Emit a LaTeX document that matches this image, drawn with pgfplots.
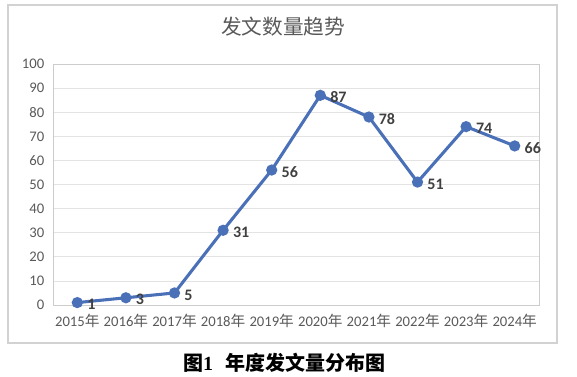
\documentclass[border=0pt]{standalone}
\usepackage{fontspec}
\setmainfont{Carlito}
\newfontfamily\cjk{Noto Sans CJK SC}
\newfontfamily\tnr{Liberation Serif}
\usepackage{pgfplots}
\pgfplotsset{compat=1.18}
\definecolor{lineblue}{HTML}{4A70B8}
\definecolor{txtgray}{HTML}{595959}
\definecolor{lblgray}{HTML}{404040}
\begin{document}
\begin{tikzpicture}
\path[use as bounding box] (0,0) rectangle (432.75pt,282.75pt);
\draw[gray!35, line width=0.8pt] (6pt,25.5pt) rectangle (417.75pt,279pt);
\node[font=\cjk\fontsize{15.5}{17}\selectfont, text=txtgray] at (212.25pt,262.5pt) {发文数量趋势};
\node[font=\fontsize{15}{17}\selectfont] at (213pt,11pt) {{\cjk\bfseries 图}{\tnr\bfseries 1}\hspace{0.6em}{\cjk\bfseries 年度发文量分布图}};
\begin{axis}[
  at={(39.75pt,54pt)}, anchor=south west,
  scale only axis, width=364.5pt, height=180.75pt,
  xmin=-0.5, xmax=9.5, ymin=0, ymax=100,
  ytick={0,10,...,100},
  xtick={0,...,9},
  xticklabels={2015{\cjk 年},2016{\cjk 年},2017{\cjk 年},2018{\cjk 年},2019{\cjk 年},2020{\cjk 年},2021{\cjk 年},2022{\cjk 年},2023{\cjk 年},2024{\cjk 年}},
  /pgf/number format/assume math mode=true,
  ymajorgrids, grid style={gray!22, line width=0.5pt},
  axis line style={gray!40},
  major tick length=0pt,
  tick label style={font=\fontsize{11}{13}\selectfont, text=txtgray},
  xticklabel style={yshift=-3pt},
  yticklabel style={xshift=-3pt},
  clip=false,
]
\addplot[lineblue, line width=2.3pt, mark=*, mark size=3pt, mark options={fill=lineblue, draw=lineblue},
  nodes near coords, every node near coord/.append style={font=\bfseries\fontsize{12}{14}\selectfont, text=lblgray, anchor=west, xshift=3pt, yshift=-1.5pt}]
coordinates {(0,1) (1,3) (2,5) (3,31) (4,56) (5,87) (6,78) (7,51) (8,74) (9,66)};
\end{axis}
\end{tikzpicture}
\end{document}
